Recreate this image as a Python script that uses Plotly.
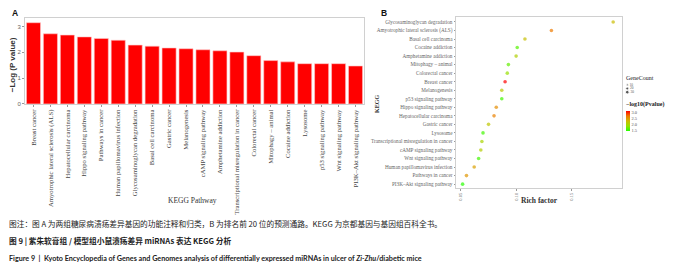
import plotly.graph_objects as go

# ---------------- Panel A data ----------------
pathways_a = [
    "Breast cancer", "Amyotrophic lateral sclerosis (ALS)", "Hepatocellular carcinoma",
    "Hippo signaling pathway", "Pathways in cancer", "Human papillomavirus infection",
    "Glycosaminoglycan degradation", "Basal cell carcinoma", "Gastric cancer",
    "Melanogenesis", "cAMP signaling pathway", "Amphetamine addiction",
    "Transcriptional misregulation in cancer", "Colorectal cancer", "Mitophagy \u2013 animal",
    "Cocaine addiction", "Lysosome", "p53 signaling pathway", "Wnt signaling pathway",
    "PI3K\u2013Akt signaling pathway",
]
neglogp_a = [3.15, 2.72, 2.67, 2.60, 2.54, 2.47, 2.28, 2.24, 2.17, 2.14,
             2.10, 2.06, 2.01, 1.87, 1.68, 1.63, 1.56, 1.56, 1.56, 1.47]
ticks_a = [0, 1, 2, 3]

# ---------------- Panel B data (top to bottom) ----------------
pathways_b = [
    "Glycosaminoglycan degradation", "Amyotrophic lateral sclerosis (ALS)", "Basal cell carcinoma",
    "Cocaine addiction", "Amphetamine addiction", "Mitophagy \u2013 animal", "Colorectal cancer",
    "Breast cancer", "Melanogenesis", "p53 signaling pathway", "Hippo signaling pathway",
    "Hepatocellular carcinoma", "Gastric cancer", "Lysosome",
    "Transcriptional misregulation in cancer", "cAMP signaling pathway", "Wnt signaling pathway",
    "Human papillomavirus infection", "Pathways in cancer", "PI3K\u2013Akt signaling pathway",
]
rich_factor_b = [0.188, 0.132, 0.108, 0.101, 0.100, 0.093, 0.092, 0.090, 0.087, 0.087,
                 0.082, 0.080, 0.075, 0.070, 0.069, 0.068, 0.066, 0.062, 0.055, 0.0515]
gene_count_b = [4, 9, 7, 6, 7, 7, 8, 14, 10, 7, 12, 13, 9, 9, 10, 12, 9, 18, 30, 24]
neglogp_b = [2.28, 2.72, 2.24, 1.63, 2.06, 1.68, 1.87, 3.15, 2.14, 1.56,
             2.60, 2.67, 2.17, 1.56, 2.01, 2.10, 1.56, 2.47, 2.54, 1.47]
ticks_b = [0.05, 0.10, 0.15]
tick_text_b = ["0.05", "0.10", "0.15"]
size_legend_values = [10, 20, 30]
color_legend_ticks = [1.5, 2.0, 2.5, 3.0]

W, H = 700, 280
def px(x): return x / W
def py(y): return 1 - y / H

SIZEREF = 3 * 32 / 4.6 ** 2
colorscale = [[0, "#22FF00"], [0.25, "#98E000"], [0.5, "#CDBA00"], [0.75, "#EE7A00"], [1, "#FF0000"]]
serif = "Liberation Serif, Times New Roman, serif"
sans = "Liberation Sans, Arial, sans-serif"

fig = go.Figure()

fig.add_trace(go.Bar(
    x=pathways_a, y=neglogp_a, xaxis="x", yaxis="y",
    marker=dict(color="#FF0000", line=dict(color="#FFC8C8", width=0.6)),
    showlegend=False, hoverinfo="x+y",
))

fig.add_trace(go.Scatter(
    x=rich_factor_b, y=pathways_b, xaxis="x2", yaxis="y2", mode="markers",
    marker=dict(size=gene_count_b, sizemode="area", sizeref=SIZEREF, sizemin=1.8,
                color=neglogp_b, colorscale=colorscale, cmin=1.45, cmax=3.15,
                line=dict(width=0),
                colorbar=dict(
                    x=px(626), xanchor="left", y=py(122), yanchor="middle",
                    len=20, lenmode="pixels", thickness=4, thicknessmode="pixels",
                    outlinewidth=0, ticks="", tickvals=color_legend_ticks,
                    ticktext=["1.5", "2.0", "2.5", "3.0"],
                    tickfont=dict(family=serif, size=4.5, color="#555"),
                    ypad=0, xpad=0, title=dict(text=""),
                )),
    showlegend=False,
))

# size legend drawn through its own little axis
fig.add_trace(go.Scatter(
    x=[0, 0, 0], y=[str(v) for v in size_legend_values], xaxis="x3", yaxis="y3",
    mode="markers+text", text=[str(v) for v in size_legend_values],
    textposition="middle right", textfont=dict(family=serif, size=3.5, color="#555"),
    marker=dict(size=size_legend_values, sizemode="area", sizeref=SIZEREF, color="#111"),
    showlegend=False, hoverinfo="skip",
))

frame = "#D0D0D0"
fig.update_layout(
    width=W, height=H, autosize=False,
    margin=dict(l=0, r=0, t=0, b=0),
    paper_bgcolor="white", plot_bgcolor="white",
    bargap=0.17,
    xaxis=dict(domain=[px(25), px(364)], showline=True, mirror=True, linecolor=frame, linewidth=1,
               tickangle=-90, tickfont=dict(family=serif, size=6.7, color="#444"),
               ticks="outside", ticklen=2, tickcolor="#999", showgrid=False, zeroline=False,
               categoryorder="array", categoryarray=pathways_a),
    yaxis=dict(domain=[py(105), py(18)], range=[0, 3.34], showline=True, mirror=True,
               linecolor=frame, linewidth=1, tickvals=ticks_a,
               tickfont=dict(family=sans, size=6, color="#666"),
               ticks="outside", ticklen=2, tickcolor="#999", showgrid=False, zeroline=False),
    xaxis2=dict(domain=[px(456), px(622)], range=[0.0455, 0.196], anchor="y2",
                showline=True, mirror=True, linecolor=frame, linewidth=1,
                tickvals=ticks_b, ticktext=tick_text_b, tickangle=-90,
                tickfont=dict(family=serif, size=4.5, color="#555"),
                ticks="outside", ticklen=2, tickcolor="#999", showgrid=False, zeroline=False),
    yaxis2=dict(domain=[py(190), py(17)], anchor="x2", type="category",
                categoryorder="array", categoryarray=pathways_b[::-1], range=[-0.45, 19.6],
                showline=True, mirror=True, linecolor=frame, linewidth=1,
                tickfont=dict(family=serif, size=5.2, color="#666"),
                ticks="outside", ticklen=1.5, tickcolor="#999", showgrid=False, zeroline=False),
    xaxis3=dict(domain=[px(625), px(650)], range=[-0.4, 4], anchor="y3", visible=False),
    yaxis3=dict(domain=[py(95), py(84)], anchor="x3", type="category",
                categoryorder="array", categoryarray=[str(v) for v in size_legend_values][::-1],
                range=[-0.5, 2.5], visible=False),
)

ann = []
def add(text, x, y, size, family=sans, color="#222", xanchor="left", yanchor="middle", angle=0):
    ann.append(dict(text=text, x=px(x), y=py(y), xref="paper", yref="paper", showarrow=False,
                    xanchor=xanchor, yanchor=yanchor, textangle=angle, borderpad=0,
                    font=dict(size=size, family=family, color=color)))

add("<b>A</b>", 11, 13, 8.5, color="#111")
add("<b>B</b>", 380, 13, 8.5, color="#111")
add("<b>\u2212Log (P value)</b>", 12, 66, 8, color="#333", xanchor="center", angle=-90)
add("KEGG Pathway", 193, 203, 7.5, family=serif, color="#333", xanchor="center")
add("<b>KEGG</b>", 377, 105, 6, family=serif, color="#333", xanchor="center", angle=-90)
add("<b>Rich factor</b>", 539, 203, 7.5, family=serif, color="#333", xanchor="center")
add("GeneCount", 625, 79, 6, family=serif, color="#222")
add("<b>\u2212log10(Pvalue)</b>", 625, 106, 6, family=serif, color="#222")

cjk = "Noto Sans CJK SC, sans-serif"
add("图注：图 A 为两组糖尿病溃疡差异基因的功能注释和归类，B 为排名前 20 位的预测通路。KEGG 为京都基因与基因组百科全书。",
    8, 226, 7.7, family=cjk, color="#222")
add("<b>图 9 | 紫朱软膏组 / 模型组小鼠溃疡差异 miRNAs 表达 KEGG 分析</b>",
    8, 243, 7.7, family=cjk, color="#222")
add("<b>Figure 9  |  Kyoto Encyclopedia of Genes and Genomes analysis of differentially expressed miRNAs in ulcer of <i>Zi-Zhu</i>/diabetic mice</b>",
    8, 261, 7.2, family="Lato, Liberation Sans, sans-serif", color="#222")

fig.update_layout(annotations=ann)
fig.write_html("out.html", config={"displayModeBar": False},
               post_script="document.body.style.margin='0';")
